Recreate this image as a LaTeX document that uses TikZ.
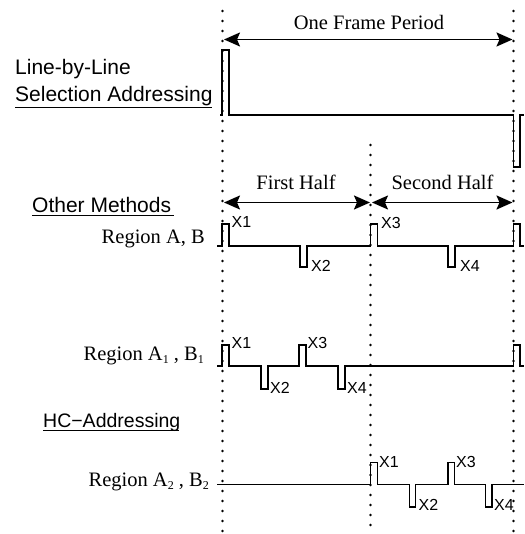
\documentclass[tikz,border=0pt]{standalone}
\usepackage{fontspec}
\setmainfont{Liberation Serif}
\newfontfamily\lsans{Liberation Sans}
\usetikzlibrary{arrows.meta}
\newcommand{\mysub}[1]{\raisebox{-2.5pt}{\fontsize{12}{12}\selectfont #1}}
\begin{document}
\begin{tikzpicture}[x=1pt,y=-1pt,
  sig/.style={line width=1.9pt,line join=miter},
  dotline/.style={line width=2.7pt,line cap=round,dash pattern=on 0pt off 10pt},
  dimarrow/.style={line width=1.8pt,{Stealth[length=16pt,width=14pt,inset=3pt]}-{Stealth[length=16pt,width=14pt,inset=3pt]}},
  serlabel/.style={inner sep=0pt,font=\fontsize{20.5}{24}\selectfont},
  sanslabel/.style={inner sep=0pt,font=\lsans\fontsize{21}{25}\selectfont},
  xlabel/.style={inner sep=0pt,anchor=west,font=\lsans\fontsize{16}{19}\selectfont},
  uline/.style={line width=1pt}]
\useasboundingbox (0,0) rectangle (524,534);

% dotted guide lines
\coordinate (dLt) at (222.5,11);  \coordinate (dLb) at (222.5,534);
\coordinate (dMt) at (370.5,145); \coordinate (dMb) at (370.5,534);
\coordinate (dRt) at (513.5,11);  \coordinate (dRb) at (513.5,534);
\draw[dotline] (dLt) -- (dLb);
\draw[dotline] (dMt) -- (dMb);
\draw[dotline] (dRt) -- (dRb);

% dimension arrows
\coordinate (fa) at (224,39.5); \coordinate (fb) at (512.5,39.5);
\draw[dimarrow] (fa) -- (fb);
\node[serlabel,anchor=base] (framelbl) at (369,30) {One Frame Period};

\coordinate (ha) at (224,202.5); \coordinate (hb) at (370,202.5);
\coordinate (hc) at (372,202.5); \coordinate (hd) at (512.5,202.5);
\draw[dimarrow] (ha) -- (hb);
\draw[dimarrow] (hc) -- (hd);
\node[serlabel,anchor=base] (firsthalf) at (296,190) {First Half};
\node[serlabel,anchor=base] (secondhalf) at (442.5,190) {Second Half};

% left titles
\node[sanslabel,anchor=base west] (lbl1) at (15,75) {Line-by-Line};
\node[sanslabel,anchor=base west] (lbl2) at (15,101.5) {Selection Addressing};
\draw[uline] (15,107.5) -- (211.5,107.5);
\node[sanslabel,anchor=base west] (other) at (32,212) {Other Methods};
\draw[uline] (32,215.5) -- (173.5,215.5);
\node[sanslabel,anchor=base west,font=\lsans\fontsize{19.5}{24}\selectfont] (hcaddr) at (43,427) {HC−Addressing};
\draw[uline] (43,430.5) -- (179,430.5);

\node[serlabel,anchor=base east] (rowab) at (205,243.3) {Region A, B};
\node[serlabel,anchor=base east] (rowab1) at (204,360.7) {Region A\mysub{1} , B\mysub{1}};
\node[serlabel,anchor=base east] (rowab2) at (209,486.5) {Region A\mysub{2} , B\mysub{2}};

% Line-by-line signal
\draw[sig] (220,115) -- (222,115) -- (222,50) -- (229,50) -- (229,115) -- (513.5,115)
  -- (513.5,167) -- (520,167) -- (520,115) -- (524,115);

% Row A, B
\draw[sig] (217,246) -- (222,246) -- (222,224) -- (229,224) -- (229,246)
  -- (300,246) -- (300,267) -- (307,267) -- (307,246)
  -- (370.5,246) -- (370.5,224) -- (377.5,224) -- (377.5,246)
  -- (448,246) -- (448,267) -- (455,267) -- (455,246)
  -- (513.5,246) -- (513.5,224) -- (520,224) -- (520,246) -- (524,246);
\node[xlabel] (a1) at (231.5,222) {X1};
\node[xlabel] (a2) at (311,266) {X2};
\node[xlabel] (a3) at (381,222.5) {X3};
\node[xlabel] (a4) at (460,266) {X4};

% Row A1, B1
\draw[sig] (217,366) -- (222,366) -- (222,345) -- (229,345) -- (229,366)
  -- (261,366) -- (261,389) -- (268,389) -- (268,366)
  -- (299,366) -- (299,345) -- (306,345) -- (306,366)
  -- (338,366) -- (338,389) -- (345,389) -- (345,366)
  -- (513.5,366) -- (513.5,345) -- (520,345) -- (520,366) -- (524,366);
\node[xlabel] (b1) at (231.5,343) {X1};
\node[xlabel] (b2) at (270,388) {X2};
\node[xlabel] (b3) at (307.5,343) {X3};
\node[xlabel] (b4) at (347,388) {X4};

% Row A2, B2
\draw[sig] (217,484.5) -- (370.5,484.5) -- (370.5,462.5) -- (377.5,462.5) -- (377.5,484.5)
  -- (409.5,484.5) -- (409.5,507) -- (415.5,507) -- (415.5,484.5)
  -- (448,484.5) -- (448,462.5) -- (454.5,462.5) -- (454.5,484.5)
  -- (485.5,484.5) -- (485.5,507) -- (492,507) -- (492,484.5) -- (524,484.5);
\node[xlabel] (c1) at (379,461.5) {X1};
\node[xlabel] (c2) at (418.5,505) {X2};
\node[xlabel] (c3) at (456,461.5) {X3};
\node[xlabel] (c4) at (494,505) {X4};
\end{tikzpicture}
\end{document}
